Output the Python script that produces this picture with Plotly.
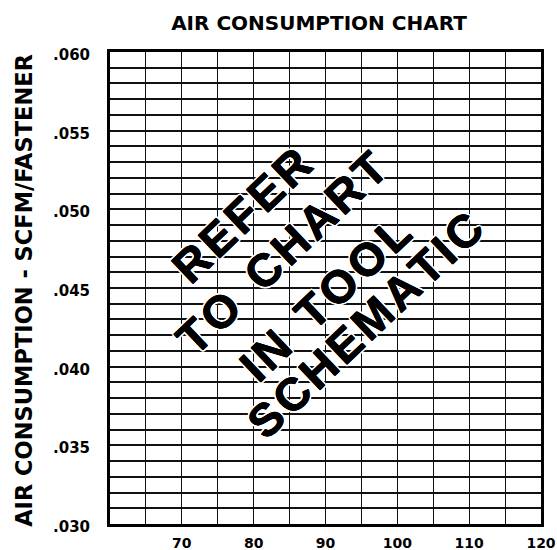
import plotly.graph_objects as go

# Axis data
x_range = [60, 120]
y_range = [0.030, 0.060]
x_tick_vals = [70, 80, 90, 100, 110, 120]
x_tick_text = ["70", "80", "90", "100", "110", "120"]
y_tick_vals = [0.030, 0.035, 0.040, 0.045, 0.050, 0.055, 0.060]
y_tick_text = [".030", ".035", ".040", ".045", ".050", ".055", ".060"]
x_minor_step = 5
y_minor_step = 0.001

title_text = "AIR CONSUMPTION CHART"
y_title = "AIR CONSUMPTION - SCFM/FASTENER"
stamp_lines = ["REFER", "TO CHART", "IN TOOL", "SCHEMATIC"]
stamp_pos = [(0.306, 0.655), (0.399, 0.574), (0.499, 0.477), (0.592, 0.422)]

FONT = "DejaVu Sans"
STAMP_FONT = "Liberation Sans"
HAIR = "\u200a"


def spaced(word_line):
    return "  ".join(HAIR.join(list(w)) for w in word_line.split(" "))


fig = go.Figure()
# invisible trace to establish axes
fig.add_trace(go.Scatter(x=x_range, y=y_range, mode="markers",
                         marker=dict(opacity=0), hoverinfo="skip", showlegend=False))

fig.update_layout(
    width=557, height=550,
    margin=dict(l=110, r=16, t=52, b=26),
    paper_bgcolor="white", plot_bgcolor="white",
    title=dict(text="<b>" + title_text + "</b>", x=319/557, y=1-23/550,
               xanchor="center", yanchor="middle",
               font=dict(family=FONT, size=20, color="black")),
    showlegend=False,
)

fig.update_xaxes(
    range=x_range, tickmode="array", tickvals=x_tick_vals, ticktext=x_tick_text,
    tickfont=dict(family=FONT, size=14, color="black", weight="bold"),
    showgrid=True, gridcolor="#111", gridwidth=1,
    minor=dict(tick0=60, dtick=x_minor_step, showgrid=True, gridcolor="#111", gridwidth=1),
    showline=True, linecolor="black", linewidth=2.5, mirror=True,
    ticks="", ticklen=0, zeroline=False, ticklabelstandoff=4, automargin=False,
)
fig.update_yaxes(
    range=y_range, tickmode="array", tickvals=y_tick_vals, ticktext=y_tick_text,
    showticklabels=False,
    showgrid=True, gridcolor="#111", gridwidth=1.6,
    minor=dict(tick0=0.030, dtick=y_minor_step, showgrid=True, gridcolor="#111", gridwidth=1.6),
    showline=True, linecolor="black", linewidth=2.5, mirror=True,
    ticks="", zeroline=False, automargin=False,
)

# y tick labels, placed on the y axis scale (centre-anchored)
for v, t in zip(y_tick_vals, y_tick_text):
    fig.add_annotation(
        text="<b>" + t + "</b>", xref="paper", yref="y",
        x=(71-110)/431, y=v, xanchor="center", yanchor="middle", yshift=-3,
        showarrow=False, font=dict(family=FONT, size=15, color="black"),
    )

# y-axis title as annotation
fig.add_annotation(
    text="<b>" + y_title + "</b>", xref="paper", yref="paper",
    x=(24-110)/431, y=0.494, xanchor="center", yanchor="middle",
    textangle=-90, showarrow=False,
    font=dict(family=FONT, size=22.5, color="black"),
)

thick = "0.4px 0 0 black, -0.4px 0 0 black, 0 0.4px 0 black, 0 -0.4px 0 black"
halo = ("2px 0 0 white, -2px 0 0 white, 0 2px 0 white, 0 -2px 0 white, "
        "1.5px 1.5px 0 white, -1.5px -1.5px 0 white, 1.5px -1.5px 0 white, -1.5px 1.5px 0 white")
for txt, (px, py) in zip(stamp_lines, stamp_pos):
    fig.add_annotation(
        text="<b>" + spaced(txt) + "</b>", xref="paper", yref="paper",
        x=px, y=py, xanchor="center", yanchor="middle",
        textangle=-43.5, showarrow=False,
        font=dict(family=STAMP_FONT, size=46, color="black", shadow=thick + ", " + halo),
    )

fig.write_html(
    "out.html",
    config={"displayModeBar": False},
    post_script="document.body.style.margin='0';document.documentElement.style.overflow='hidden';",
)
